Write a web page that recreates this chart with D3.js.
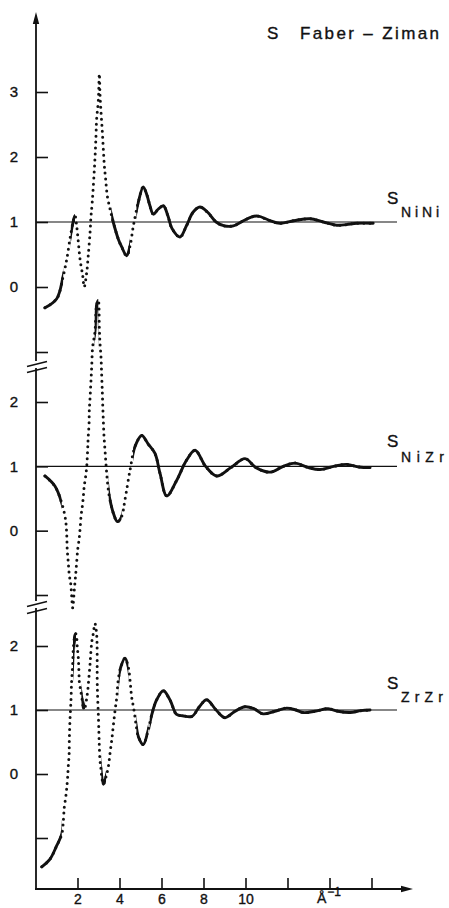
<!DOCTYPE html>
<html><head><meta charset="utf-8">
<script src="https://cdn.jsdelivr.net/npm/d3@7"></script>
<style>
body{margin:0;background:#fff}
svg{display:block}
text{font-family:"Liberation Sans",Arial,Helvetica,sans-serif;fill:#111;stroke:#111;stroke-width:0.35px}
</style>
</head><body>
<svg id="c" width="449" height="908"></svg>
<script>
// ---------- data ----------
const qNiNi = [0.45,1.01,1.32,1.49,1.64,1.77,1.88,1.96,2.04,2.12,2.25,2.32,2.44,2.51,2.6,2.64,2.7,2.83,2.88,2.91,2.99,3.04,3.07,3.12,3.18,3.23,3.28,3.34,3.42,3.55,3.7,3.94,4.1,4.34,4.5,4.66,4.9,5.13,5.3,5.45,5.61,5.85,6.09,6.3,6.5,6.88,7.2,7.5,7.83,8.2,8.6,9.0,9.42,9.9,10.3,10.61,11.1,11.64,12.3,13.07,13.7,14.34,14.8,15.3,16.08];
const sNiNi = [-0.32,-0.18,0.17,0.43,0.74,0.97,1.1,0.94,0.69,0.43,0.17,0.0,0.23,0.48,0.85,1.08,1.3,1.97,2.32,2.58,2.86,3.28,2.97,2.69,2.4,2.12,1.86,1.66,1.4,1.2,1.0,0.74,0.62,0.48,0.63,0.94,1.31,1.54,1.42,1.25,1.12,1.2,1.25,1.1,0.9,0.77,0.95,1.15,1.23,1.15,1.0,0.94,0.94,1.02,1.08,1.09,1.03,0.98,1.02,1.05,1.0,0.95,0.96,0.98,0.98];

const qNiZr = [0.45,0.93,1.25,1.4,1.45,1.49,1.51,1.56,1.61,1.68,1.72,1.77,1.85,1.91,1.96,2.01,2.07,2.12,2.17,2.23,2.28,2.32,2.39,2.44,2.47,2.49,2.51,2.55,2.56,2.6,2.64,2.68,2.72,2.83,2.91,2.99,3.04,3.07,3.12,3.15,3.18,3.2,3.23,3.26,3.31,3.36,3.42,3.49,3.58,3.7,3.9,4.1,4.26,4.5,4.74,5.06,5.36,5.69,5.93,6.25,6.72,7.2,7.6,8.1,8.63,9.3,9.98,10.5,11.17,11.8,12.36,13.0,13.55,14.2,14.83,15.4,15.93];
const sNiZr = [0.85,0.69,0.43,0.23,0.12,-0.08,-0.29,-0.49,-0.69,-0.83,-1.0,-1.2,-0.91,-0.69,-0.49,-0.29,-0.15,0.02,0.23,0.38,0.54,0.69,0.85,1.0,1.17,1.31,1.46,1.66,1.86,2.08,2.32,2.58,2.85,3.09,3.51,3.58,3.15,2.92,2.69,2.43,2.17,1.97,1.71,1.48,1.25,1.02,0.78,0.58,0.43,0.28,0.14,0.22,0.48,0.94,1.31,1.48,1.35,1.2,0.89,0.54,0.78,1.1,1.25,1.0,0.85,0.98,1.12,0.98,0.91,1.0,1.05,0.98,0.95,1.0,1.03,0.99,0.98];

const qZrZr = [0.3,0.69,1.01,1.25,1.33,1.37,1.44,1.49,1.53,1.56,1.6,1.61,1.64,1.69,1.72,1.77,1.8,1.88,1.93,1.99,2.04,2.07,2.09,2.15,2.2,2.25,2.28,2.36,2.44,2.49,2.52,2.56,2.6,2.63,2.69,2.75,2.83,2.91,2.94,2.96,2.99,3.02,3.04,3.07,3.12,3.15,3.23,3.36,3.47,3.55,3.63,3.7,3.79,3.87,3.94,4.06,4.26,4.42,4.5,4.58,4.69,4.79,4.9,5.13,5.37,5.53,5.77,6.09,6.4,6.72,7.0,7.45,7.8,8.15,8.6,9.02,9.5,9.98,10.4,10.83,11.4,11.96,12.4,12.74,13.3,13.93,14.4,14.98,15.5,15.93];
const sZrZr = [-1.45,-1.33,-1.12,-0.94,-0.71,-0.52,-0.36,-0.21,-0.05,0.12,0.3,0.53,0.83,1.16,1.45,1.71,1.95,2.17,2.19,1.98,1.81,1.58,1.43,1.31,1.2,1.11,1.03,1.05,1.19,1.31,1.42,1.57,1.73,1.88,2.09,2.19,2.35,2.19,1.42,1.19,0.95,0.64,0.43,0.22,0.07,-0.03,-0.16,-0.04,0.12,0.33,0.53,0.74,1.0,1.2,1.47,1.67,1.81,1.67,1.47,1.2,1.0,0.77,0.58,0.46,0.69,0.92,1.16,1.3,1.16,0.93,0.91,0.9,1.05,1.16,1.0,0.88,0.98,1.05,1.02,0.94,0.98,1.03,1.0,0.96,0.98,1.02,0.98,0.96,0.99,1.0];

const xTicks = [2,4,6,8,10,12,14,16];
const xTickLabels = ["2","4","6","8","10","","",""];
const yTicks1 = [-1,0,1,2,3];
const yTickLabels1 = ["","0","1","2","3"];
const yTicks2 = [-1,0,1,2];
const yTickLabels2 = ["","0","1","2"];
const yTicks3 = [-1,0,1,2];
const yTickLabels3 = ["","0","1","2"];
const seriesNames = ["NiNi","NiZr","ZrZr"];
const titleS = "S";
const titleText = "Faber \u2013 Ziman";
const xUnit = "\u00C5";
const xUnitExp = "\u22121";

// ---------- layout ----------
const svg = d3.select("#c");
const defs = svg.append("defs");
const AX = 36, AXY = 889;
const x = d3.scaleLinear().domain([0,16]).range([35.5,371.5]);
const y1 = d3.scaleLinear().domain([-1,3]).range([352,92]);
const y2 = d3.scaleLinear().domain([-1,2]).range([595,402]);
const y3 = d3.scaleLinear().domain([-1,2]).range([838,646]);
const ink = "#111";

// vertical axis with breaks
const segs = [[22,361],[368,601],[608,AXY]];
segs.forEach(s=>svg.append("line").attr("x1",AX).attr("x2",AX).attr("y1",s[0]).attr("y2",s[1])
  .attr("stroke",ink).attr("stroke-width",1.8));
svg.append("path").attr("d",`M${AX},12 L${AX-3.2},24 L${AX+3.2},24 Z`).attr("fill",ink);
// break marks
[[364,370],[604,611]].forEach(b=>{
  b.forEach(yy=>svg.append("line").attr("x1",27).attr("y1",yy+2.5).attr("x2",47).attr("y2",yy-2.5)
    .attr("stroke",ink).attr("stroke-width",1.6));
});

// horizontal axis
svg.append("line").attr("x1",AX-1).attr("x2",404).attr("y1",AXY).attr("y2",AXY)
  .attr("stroke",ink).attr("stroke-width",1.8);
svg.append("path").attr("d",`M413,${AXY} L401,${AXY-3.2} L401,${AXY+3.2} Z`).attr("fill",ink);

function styleAxis(g, fs){
  g.select(".domain").remove();
  g.selectAll(".tick line").attr("stroke",ink).attr("stroke-width",1.6);
  g.selectAll(".tick text").attr("fill",ink).style("font-size",fs)
   .style("font-family","'Liberation Sans',Arial,sans-serif");
}
const gx = svg.append("g").attr("transform",`translate(0,${AXY})`)
  .call(d3.axisBottom(x).tickValues(xTicks).tickSizeInner(-11).tickSizeOuter(0).tickPadding(5)
    .tickFormat((d,i)=>xTickLabels[i]));
styleAxis(gx, "14px");

[[y1,yTicks1,yTickLabels1],[y2,yTicks2,yTickLabels2],[y3,yTicks3,yTickLabels3]].forEach(([ys,tv,tl])=>{
  const g = svg.append("g").attr("transform",`translate(${AX},0)`)
    .call(d3.axisLeft(ys).tickValues(tv).tickSizeInner(-12).tickSizeOuter(0).tickPadding(18)
      .tickFormat((d,i)=>tl[i]));
  styleAxis(g, "15px");
  // reference line at S = 1
  svg.append("line").attr("x1",AX).attr("x2",397).attr("y1",ys(1)).attr("y2",ys(1))
    .attr("stroke",ink).attr("stroke-width",1.1);
});

// unit label
const ut = svg.append("text").attr("x",317).attr("y",903).style("font-size","14px");
ut.append("tspan").text(xUnit);
ut.append("tspan").attr("dy",-7).style("font-size","12px").attr("dx",1).text(xUnitExp);

// ---------- curves ----------
const line = d3.line().curve(d3.curveCatmullRom.alpha(0.5));
function drawSeries(q, s, ys, id){
  const pts = q.map((d,i)=>[x(d), ys(s[i])]);
  const dPath = line(pts);
  svg.append("path").attr("d",dPath).attr("fill","none").attr("stroke",ink)
    .attr("stroke-width",3).attr("stroke-linecap","round").attr("stroke-dasharray","0 6");
  const clip = defs.append("clipPath").attr("id",id);
  let start = null;
  for(let i=0;i<pts.length-1;i++){
    const dx = Math.max(1e-6, pts[i+1][0]-pts[i][0]);
    const slope = Math.abs(pts[i+1][1]-pts[i][1])/dx;
    const flat = slope < 4;
    if(flat && start===null) start = pts[i][0];
    if(!flat && start!==null){
      clip.append("rect").attr("x",start-2).attr("y",0).attr("width",pts[i][0]-start+2).attr("height",908);
      start = null;
    }
  }
  if(start!==null) clip.append("rect").attr("x",start-2).attr("y",0)
    .attr("width",pts[pts.length-1][0]-start+4).attr("height",908);
  svg.append("path").attr("d",dPath).attr("fill","none").attr("stroke",ink)
    .attr("stroke-width",2.9).attr("stroke-linejoin","round").attr("stroke-linecap","round")
    .attr("clip-path",`url(#${id})`);
}
drawSeries(qNiNi, sNiNi, y1, "cNiNi");
drawSeries(qNiZr, sNiZr, y2, "cNiZr");
drawSeries(qZrZr, sZrZr, y3, "cZrZr");

// ---------- labels ----------
svg.append("text").attr("x",267).attr("y",39).style("font-size","17px").text(titleS);
svg.append("text").attr("x",300).attr("y",39).style("font-size","17px")
  .attr("textLength",139).attr("lengthAdjust","spacing").text(titleText);

const labPos = [[204,217,38],[447,462,43],[689,702,42]];
seriesNames.forEach((n,i)=>{
  const p = labPos[i];
  svg.append("text").attr("x",387).attr("y",p[0]).style("font-size","17px").text("S");
  svg.append("text").attr("x",401).attr("y",p[1]).style("font-size","14px")
    .attr("textLength",p[2]).attr("lengthAdjust","spacing").text(n);
});
</script>
</body></html>
